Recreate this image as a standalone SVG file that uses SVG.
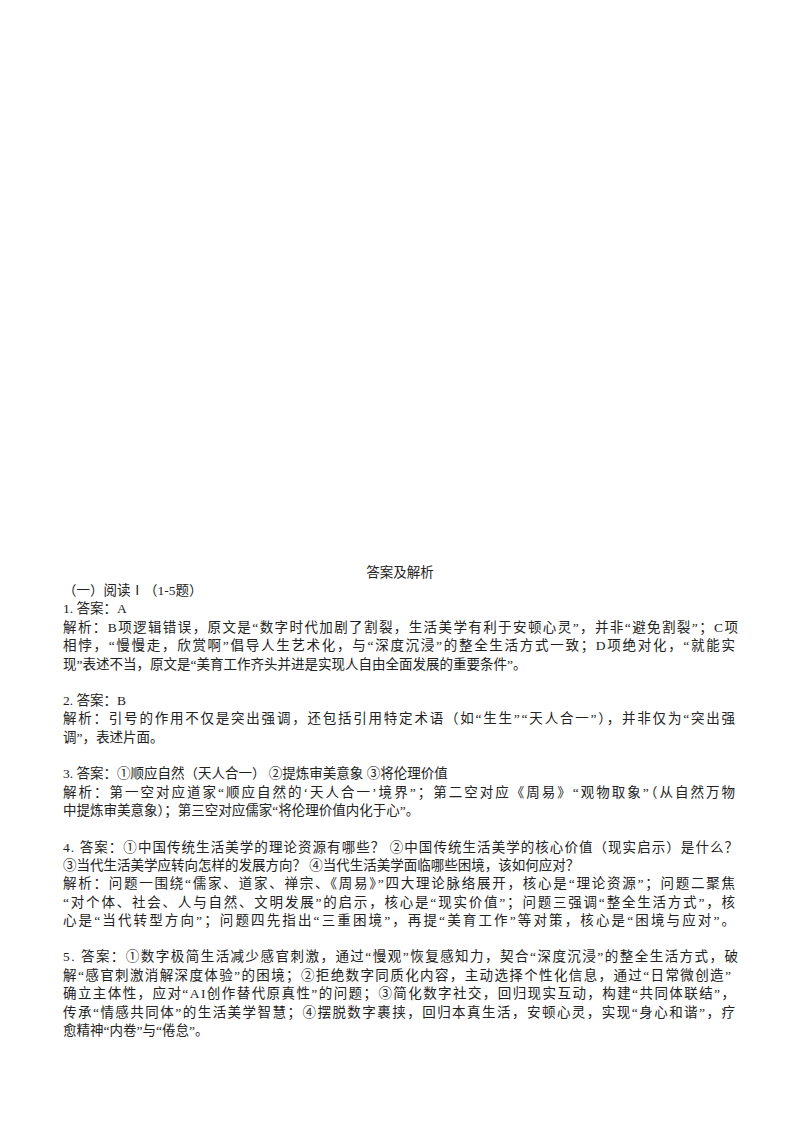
<svg xmlns="http://www.w3.org/2000/svg" width="800" height="1132" viewBox="0 0 800 1132">
<style>
text{font-family:"Liberation Serif","Noto Sans CJK SC",serif;font-size:13.5px;fill:#222;}
.j{lengthAdjust:spacing;}
</style>
<rect width="800" height="1132" fill="#fff"/>
<g id="body">
<text x="400" y="577" text-anchor="middle">答案及解析</text>
<text x="63" y="595">（一）阅读Ⅰ（1-5题）</text>
<text x="63" y="613">1. 答案：A</text>
<text x="63" y="632" textLength="675" lengthAdjust="spacing">解析：B项逻辑错误，原文是“数字时代加剧了割裂，生活美学有利于安顿心灵”，并非“避免割裂”；C项</text>
<text x="63" y="650" textLength="672" lengthAdjust="spacing">相悖，“慢慢走，欣赏啊”倡导人生艺术化，与“深度沉浸”的整全生活方式一致；D项绝对化，“就能实</text>
<text x="63" y="669">现”表述不当，原文是“美育工作齐头并进是实现人自由全面发展的重要条件”。</text>
<text x="63" y="705">2. 答案：B</text>
<text x="63" y="723" textLength="672" lengthAdjust="spacing">解析：引号的作用不仅是突出强调，还包括引用特定术语（如“生生”“天人合一”），并非仅为“突出强</text>
<text x="63" y="742">调”，表述片面。</text>
<text x="63" y="778">3. 答案：①顺应自然（天人合一） ②提炼审美意象 ③将伦理价值</text>
<text x="63" y="797" textLength="672" lengthAdjust="spacing">解析：第一空对应道家“顺应自然的‘天人合一’境界”；第二空对应《周易》“观物取象”（从自然万物</text>
<text x="63" y="815">中提炼审美意象）；第三空对应儒家“将伦理价值内化于心”。</text>
<text x="63" y="852" textLength="675" lengthAdjust="spacing">4. 答案：①中国传统生活美学的理论资源有哪些？ ②中国传统生活美学的核心价值（现实启示）是什么？</text>
<text x="63" y="870">③当代生活美学应转向怎样的发展方向？ ④当代生活美学面临哪些困境，该如何应对？</text>
<text x="63" y="888" textLength="672" lengthAdjust="spacing">解析：问题一围绕“儒家、道家、禅宗、《周易》”四大理论脉络展开，核心是“理论资源”；问题二聚焦</text>
<text x="63" y="907" textLength="672" lengthAdjust="spacing">“对个体、社会、人与自然、文明发展”的启示，核心是“现实价值”；问题三强调“整全生活方式”，核</text>
<text x="63" y="925" textLength="672" lengthAdjust="spacing">心是“当代转型方向”；问题四先指出“三重困境”，再提“美育工作”等对策，核心是“困境与应对”。</text>
<text x="63" y="961" textLength="675" lengthAdjust="spacing">5. 答案：①数字极简生活减少感官刺激，通过“慢观”恢复感知力，契合“深度沉浸”的整全生活方式，破</text>
<text x="63" y="980" textLength="668" lengthAdjust="spacing">解“感官刺激消解深度体验”的困境；②拒绝数字同质化内容，主动选择个性化信息，通过“日常微创造”</text>
<text x="63" y="998" textLength="672" lengthAdjust="spacing">确立主体性，应对“AI创作替代原真性”的问题；③简化数字社交，回归现实互动，构建“共同体联结”，</text>
<text x="63" y="1017" textLength="672" lengthAdjust="spacing">传承“情感共同体”的生活美学智慧；④摆脱数字裹挟，回归本真生活，安顿心灵，实现“身心和谐”，疗</text>
<text x="63" y="1035">愈精神“内卷”与“倦怠”。</text>
</g>
</svg>
